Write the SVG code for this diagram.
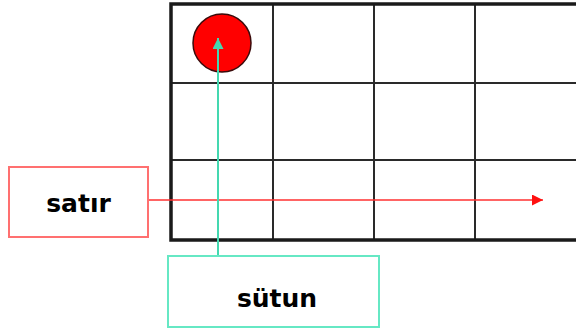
<svg xmlns="http://www.w3.org/2000/svg" width="576" height="330" viewBox="0 0 576 330">
  <defs>
    <style>
      .grid-line { stroke: #2a2a2a; stroke-width: 2; fill: none; }
      .grid-frame { stroke: #1a1a1a; stroke-width: 3.5; fill: none; }
      .label { font-family: "DejaVu Sans", Verdana, sans-serif; font-weight: bold; font-size: 25px; fill: #000; text-anchor: middle; }
      .box-red { fill: #fff; stroke: #ff7070; stroke-width: 2; }
      .box-teal { fill: #fff; stroke: #66e8c4; stroke-width: 2; }
    </style>
    <marker id="head-red" viewBox="0 0 10 10" refX="10" refY="5" markerWidth="12" markerHeight="11" markerUnits="userSpaceOnUse" orient="auto">
      <path d="M0,0 L10,5 L0,10 Z" fill="#ff1010"/>
    </marker>
    <marker id="head-teal" viewBox="0 0 10 10" refX="10" refY="5" markerWidth="12" markerHeight="11" markerUnits="userSpaceOnUse" orient="auto">
      <path d="M0,0 L10,5 L0,10 Z" fill="#44d8b0"/>
    </marker>
  </defs>

  <rect width="576" height="330" fill="#fff"/>

  <!-- 4 x 3 board -->
  <g id="board">
    <line class="grid-line" x1="273" y1="4" x2="273" y2="240"/>
    <line class="grid-line" x1="374" y1="4" x2="374" y2="240"/>
    <line class="grid-line" x1="475" y1="4" x2="475" y2="240"/>
    <line class="grid-line" x1="171" y1="83" x2="577" y2="83"/>
    <line class="grid-line" x1="171" y1="160" x2="577" y2="160"/>
    <rect class="grid-frame" x="171" y="4" width="410" height="236"/>
  </g>

  <!-- token in the first cell -->
  <g id="token">
    <circle cx="222" cy="43" r="29" fill="#ff0000" stroke="#3a0a0a" stroke-width="1.5"/>
  </g>

  <!-- connectors -->
  <g id="connectors">
    <line x1="149" y1="200" x2="543" y2="200" stroke="#ff3030" stroke-width="1.5" marker-end="url(#head-red)"/>
    <line x1="218" y1="257" x2="218" y2="38" stroke="#44d8b0" stroke-width="2" marker-end="url(#head-teal)"/>
  </g>

  <g id="satir">
    <rect class="box-red" x="9" y="167" width="139" height="70"/>
    <text class="label" x="78.5" y="212">satır</text>
  </g>

  <g id="sutun">
    <rect class="box-teal" x="168" y="256" width="211" height="71"/>
    <text class="label" x="277" y="307">sütun</text>
  </g>
</svg>
